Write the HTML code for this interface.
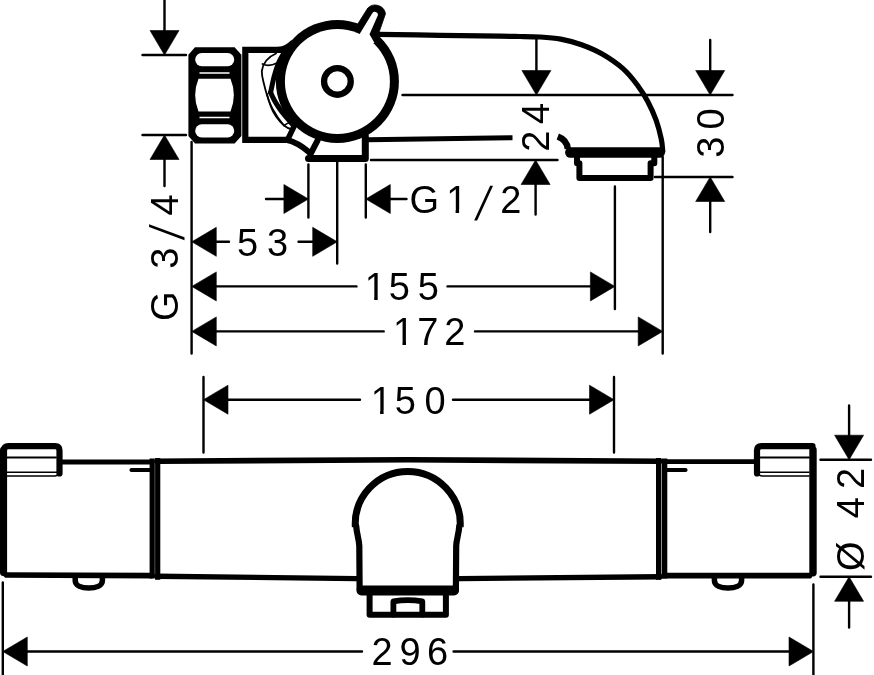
<!DOCTYPE html>
<html>
<head>
<meta charset="utf-8">
<title>Dimension drawing</title>
<style>
html,body{margin:0;padding:0;background:#fff;}
body{width:874px;height:675px;overflow:hidden;font-family:"Liberation Sans",sans-serif;}
svg{display:block;position:absolute;left:0;top:0;will-change:transform;}
.t{stroke:#000;stroke-width:2.4;fill:none;stroke-linecap:round;}
.k{stroke:#000;fill:none;stroke-linecap:round;stroke-linejoin:round;}
.a{fill:#000;stroke:#000;stroke-width:0.6;stroke-linejoin:round;}
text{font-family:"Liberation Sans",sans-serif;font-size:38px;fill:#000;}
</style>
</head>
<body>
<svg width="874" height="675" viewBox="0 0 874 675">
<rect width="874" height="675" fill="#fff"/>

<!-- ================= TOP VIEW (side elevation) ================= -->
<g id="thin-top" class="t">
  <path d="M164.500 0V32M142.500 55H186M142.500 135H186M164.500 158V186M191.600 142V353.500"/>
  <path d="M215 241.800H229M298.500 241.800H314M337.200 162V263.500"/>
  <path d="M308.400 164.500V217.500M365.800 164.500V217.500M266 199H285M389 199H406.500"/>
  <path d="M215 286.400H356.500M447.500 286.400H592M614.900 186.500V309"/>
  <path d="M215 331.400H383.700M475 331.400H640M662.700 157V353.500"/>
  <path d="M402.500 95H732.500M536.400 38V72M371 160H557.500M535.600 183V214.500"/>
  <path d="M710.200 40V72M655 177H732.500M710.200 200V232"/>
</g>
<g id="arrows-top" class="a">
  <path d="M164.5 55.0L150.0 30.5H179.0ZM164.5 135.0L150.0 159.5H179.0ZM191.8 241.8L216.3 227.3V256.3ZM337.2 241.8L312.7 227.3V256.3ZM308.4 199.0L283.9 184.5V213.5ZM365.8 199.0L390.3 184.5V213.5ZM191.8 286.4L216.3 271.9V300.9ZM614.9 286.4L590.4 271.9V300.9ZM191.8 331.4L216.3 316.9V345.9ZM662.7 331.4L638.2 316.9V345.9ZM536.4 95.0L521.9 70.5H550.9ZM535.6 160.0L521.1 184.5H550.1ZM710.2 95.0L695.7 70.5H724.7ZM710.2 177.0L695.7 201.5H724.7Z"/>
</g>

<!-- nut -->
<g id="nut">
  <path d="M195 47.300H234.600L241.400 54.800V136L234.600 143.500H195L188.400 136V54.800Z" fill="#000"/>
  <rect x="195.200" y="53.100" width="39" height="13.100" rx="6.500" fill="#fff"/>
  <path d="M199.500 72.900H229.500M199.500 117.600H229.500" stroke="#fff" stroke-width="1.500"/>
  <path d="M198.500 78.800H230.500Q237.200 95 230.500 111.400H198.500Q191.800 95 198.500 78.800Z" fill="#fff"/>
  <rect x="195.200" y="124.300" width="39" height="13.100" rx="6.500" fill="#fff"/>
</g>

<!-- connector block + body -->
<g id="body" class="k">
  <path d="M288 49.900H245.300V139.900H287" stroke-width="6.200" stroke-linejoin="miter"/>
  <path d="M277 47.050C283 47 287 44.200 291.800 39.800L291 49Z" fill="#000" stroke="none"/>
  <!-- chevron (hex edge behind dial) -->
  <path d="M285.5 50.5C284.4 52.4 280.9 57.8 279.0 62.0C277.1 66.2 275.7 70.9 274.3 76.0C272.9 81.1 271.2 89.8 270.6 92.5" stroke-width="5"/>
  <path d="M270.6 92.5C271.2 93.8 272.9 97.6 274.2 100.0C275.5 102.4 276.9 104.6 278.5 107.0C280.1 109.4 281.5 111.4 284.0 114.5C286.5 117.6 291.9 123.7 293.5 125.5" stroke-width="5"/>
  <!-- thin contour lines -->
  <path d="M276 53.500C268 57 263 63 261.800 71C261.800 77 263 80 264 84C266 93 268.500 100 271 107C274 115 279 121 284 125.500C286.500 127.500 288.500 128.500 291 129" stroke-width="1.800"/>
  <path d="M262.500 64C267 66.200 272 65.500 277 63" stroke-width="1.800"/>
  <path d="M266.800 93.500C268.500 102 274.500 114 284 125.500" stroke-width="1.600"/>
  <path d="M284 125.500C286 124 288 123 290 122.500" stroke-width="1.600"/>
  <!-- tilted rect -->
  <path d="M294.500 125.500L288.700 137.500" stroke-width="5.500"/>
  <path d="M286.500 139.900C294 141.500 302 146 309.500 152.500" stroke-width="6"/>
  <path d="M317.600 140.400L310.500 154" stroke-width="6"/>
  <!-- G1/2 outlet -->
  <path d="M308.500 158.400H365.300V136" stroke-width="7"/>
</g>

<!-- big circle with lever -->
<g id="dial">
  <circle cx="337.400" cy="81.400" r="61.500" fill="#000"/>
  <path d="M354 30L367.800 8A10.500 10.500 0 0 1 385.500 13.700L378.800 33L376 45Z" fill="#000" stroke="#000" stroke-width="0.800" stroke-linejoin="round"/>
  <circle cx="337.400" cy="81.400" r="52.500" fill="#fff"/>
  <path d="M359.500 34.200L372.300 13.200A3.100 3.100 0 0 1 378 14.900L369.500 34.300L374.500 43L360 44Z" fill="#fff"/>
  <circle cx="337.400" cy="81.400" r="13.350" fill="none" stroke="#000" stroke-width="6.300"/>
</g>

<!-- spout -->
<g id="spout" class="k">
  <path d="M378.0 34.4C388.3 34.5 419.7 35.0 440.0 35.3C460.3 35.6 486.7 36.0 500.0 36.2C513.3 36.4 513.3 36.4 520.0 36.5C526.7 36.6 533.2 36.6 540.0 37.0C546.8 37.4 553.8 37.8 560.7 39.1C567.6 40.4 574.6 42.2 581.5 44.7C588.4 47.2 595.3 50.0 602.2 54.0C609.1 58.0 617.1 63.4 623.0 68.6C628.9 73.8 633.4 79.7 637.5 85.2C641.6 90.7 644.8 95.8 647.9 101.7C651.0 107.6 654.0 114.2 656.2 120.4C658.4 126.6 660.2 133.9 661.3 139.1C662.4 144.3 662.5 149.4 662.8 151.5" stroke-width="5.200"/>
  <path d="M368 139.800L512.500 137.700" stroke-width="5" stroke-linecap="butt"/>
  <path d="M557.800 136.500C565 139.200 567.400 143.500 567.800 149" stroke-width="6.400" stroke-linecap="butt"/>
  <path d="M570.300 152.500H659.700" stroke-width="10.400"/>
  <path d="M577 156V163.300H579.400V178H650.600V163.300H654.300V156" stroke-width="6"/>
</g>

<!-- ================= BOTTOM VIEW (front elevation) ================= -->
<g id="thin-bot" class="t">
  <path d="M203.500 377V452.500M614 377V452.500M227 399.700H360M453 399.700H591"/>
  <path d="M2.800 582.500V675M813.400 584.500V675M26 651.500H362M453.600 651.500H790"/>
  <path d="M820.500 459.700H871M820.500 576.800H871M849.100 405.500V436M849.100 600V627.500"/>
</g>
<g id="arrows-bot" class="a">
  <path d="M203.5 399.7L228.0 385.2V414.2ZM614.0 399.7L589.5 385.2V414.2ZM2.8 651.5L27.3 637.0V666.0ZM813.5 651.5L789.0 637.0V666.0ZM849.1 459.7L834.6 435.2H863.6ZM849.1 576.8L834.6 601.3H863.6Z"/>
</g>

<g id="front" class="k">
  <!-- left handle -->
  <path d="M152 575.600L6.500 575" stroke-width="5.600"/>
  <path d="M3.550 572.600V450" stroke-width="7.100"/>
  <path d="M3.900 451V450.600Q3.900 446.100 8.400 446.100H55Q59.500 446.100 59.500 450.600V473.500" stroke-width="6.200"/>
  <path d="M62 462H152" stroke-width="4.8" stroke-linecap="butt"/>
  <path d="M7 457.6H56" stroke-width="2"/>
  <path d="M7 472.2H57M7 475.9H55Q59 475.5 60 472" stroke-width="1.5"/>
  <path d="M131.5 470H151" stroke-width="4.2"/>
  <path d="M75.200 577V580.500C75.200 586 82 588 88.800 588C95.600 588 102.400 586 102.400 580.500V577" stroke-width="5.500"/>
  <path d="M152.200 458.500V578.500" stroke-width="5.200" stroke-linecap="butt"/>
  <!-- centre body -->
  <path d="M157.700 458V579.800" stroke-width="5.200" stroke-linecap="butt"/>
  <path d="M157 461.200L408 459.800L660 461.200" stroke-width="5.600"/>
  <path d="M157 576.2L357 578.6" stroke-width="5.4"/>
  <path d="M459 578.600L660 576.800" stroke-width="5.400"/>
  <path d="M658.600 458V579.800" stroke-width="5.200" stroke-linecap="butt"/>
  <!-- right handle -->
  <path d="M664.500 458.500V578.500" stroke-width="5.600" stroke-linecap="butt"/>
  <path d="M664 461.700H755" stroke-width="4.800" stroke-linecap="butt"/>
  <path d="M666 470H685.500" stroke-width="4.200"/>
  <path d="M664 575.650H809.500" stroke-width="5.600"/>
  <path d="M813 572.700V450" stroke-width="7.400"/>
  <path d="M812.500 446.100H761.500Q757 446.100 757 450.600V473.500" stroke-width="6.200"/>
  <path d="M760 457.600H809" stroke-width="2"/>
  <path d="M760 472.2H809M762 475.9H809M757 472Q758 475.5 762 475.9" stroke-width="1.5"/>
  <path d="M714.400 577V580.500C714.400 586 721.200 588 728 588C734.800 588 741.600 586 741.600 580.500V577" stroke-width="5.500"/>
  <!-- spout front -->
  <path d="M359.700 589L359.400 545C359.200 538 355.800 534 355 524A52.750 52.750 0 0 1 460.500 524C459.700 534 456.300 538 456.100 545L455.800 589Z" fill="#fff" stroke="none"/>
  <path d="M355.340 527A52.500 52.500 0 1 1 460.160 527" stroke-width="7" stroke-linecap="butt"/>
  <path d="M359.600 589L359.300 546C359.100 539 356.800 535 356.200 526" stroke-width="6.200"/>
  <path d="M455.900 589L456.200 546C456.400 539 458.700 535 459.300 526" stroke-width="6.200"/>
  <path d="M361.500 590.400H454" stroke-width="10"/>
  <path d="M369.600 593V614.800H445.900V593" stroke-width="6"/>
  <path d="M393.400 614.500V601.400Q407.800 598.800 422.300 601.400V614.500" stroke-width="5.800"/>
</g>

<!-- ================= TEXT ================= -->
<g id="labels">
  <text x="237 267" y="256">53</text>
  <text x="364.800 388.800 417.800" y="300.300">155</text>
  <text x="393.100 417.200 444.200" y="345">172</text>
  <text x="409.600 446.200" y="212.800">G1</text>
  <text transform="translate(483.900 202.750) matrix(1 0 -0.300 1.240 0 0) translate(-5.500 14)">/</text>
  <text x="500.200" y="212.800">2</text>
  <text x="370.700 394.800 424.500" y="413.600">150</text>
  <text x="371.500 399.400 426.900" y="664.800">296</text>
  <text transform="translate(548.800 151.700) rotate(-90)" x="0 27.700">24</text>
  <text transform="translate(723.900 157.800) rotate(-90)" x="0 28.300">30</text>
  <text transform="translate(178.300 320.900) rotate(-90)" x="0 30 52.200">G 3</text>
  <text transform="translate(166.650 231.850) rotate(-90) matrix(1 0 -0.200 1.270 0 0) translate(-5.500 14)">/</text>
  <text transform="translate(178.300 320.900) rotate(-90)" x="105.300">4</text>
  <text transform="translate(864.200 570.900) rotate(-90)" x="0 30 52.600 81.900">Ø 42</text>
  <g id="unfoot">
  <rect x="366.7" y="296.9" width="7.5" height="3.8" fill="#fff"/><rect x="377.7" y="296.9" width="7" height="3.8" fill="#fff"/>
  <rect x="395.0" y="341.6" width="7.5" height="3.8" fill="#fff"/><rect x="406.0" y="341.6" width="7" height="3.8" fill="#fff"/>
  <rect x="448.1" y="209.4" width="7.5" height="3.8" fill="#fff"/><rect x="459.1" y="209.4" width="7" height="3.8" fill="#fff"/>
  <rect x="372.6" y="410.6" width="7.5" height="3.8" fill="#fff"/><rect x="383.6" y="410.6" width="7" height="3.8" fill="#fff"/>
  </g>
</g>
</svg>
</body>
</html>
